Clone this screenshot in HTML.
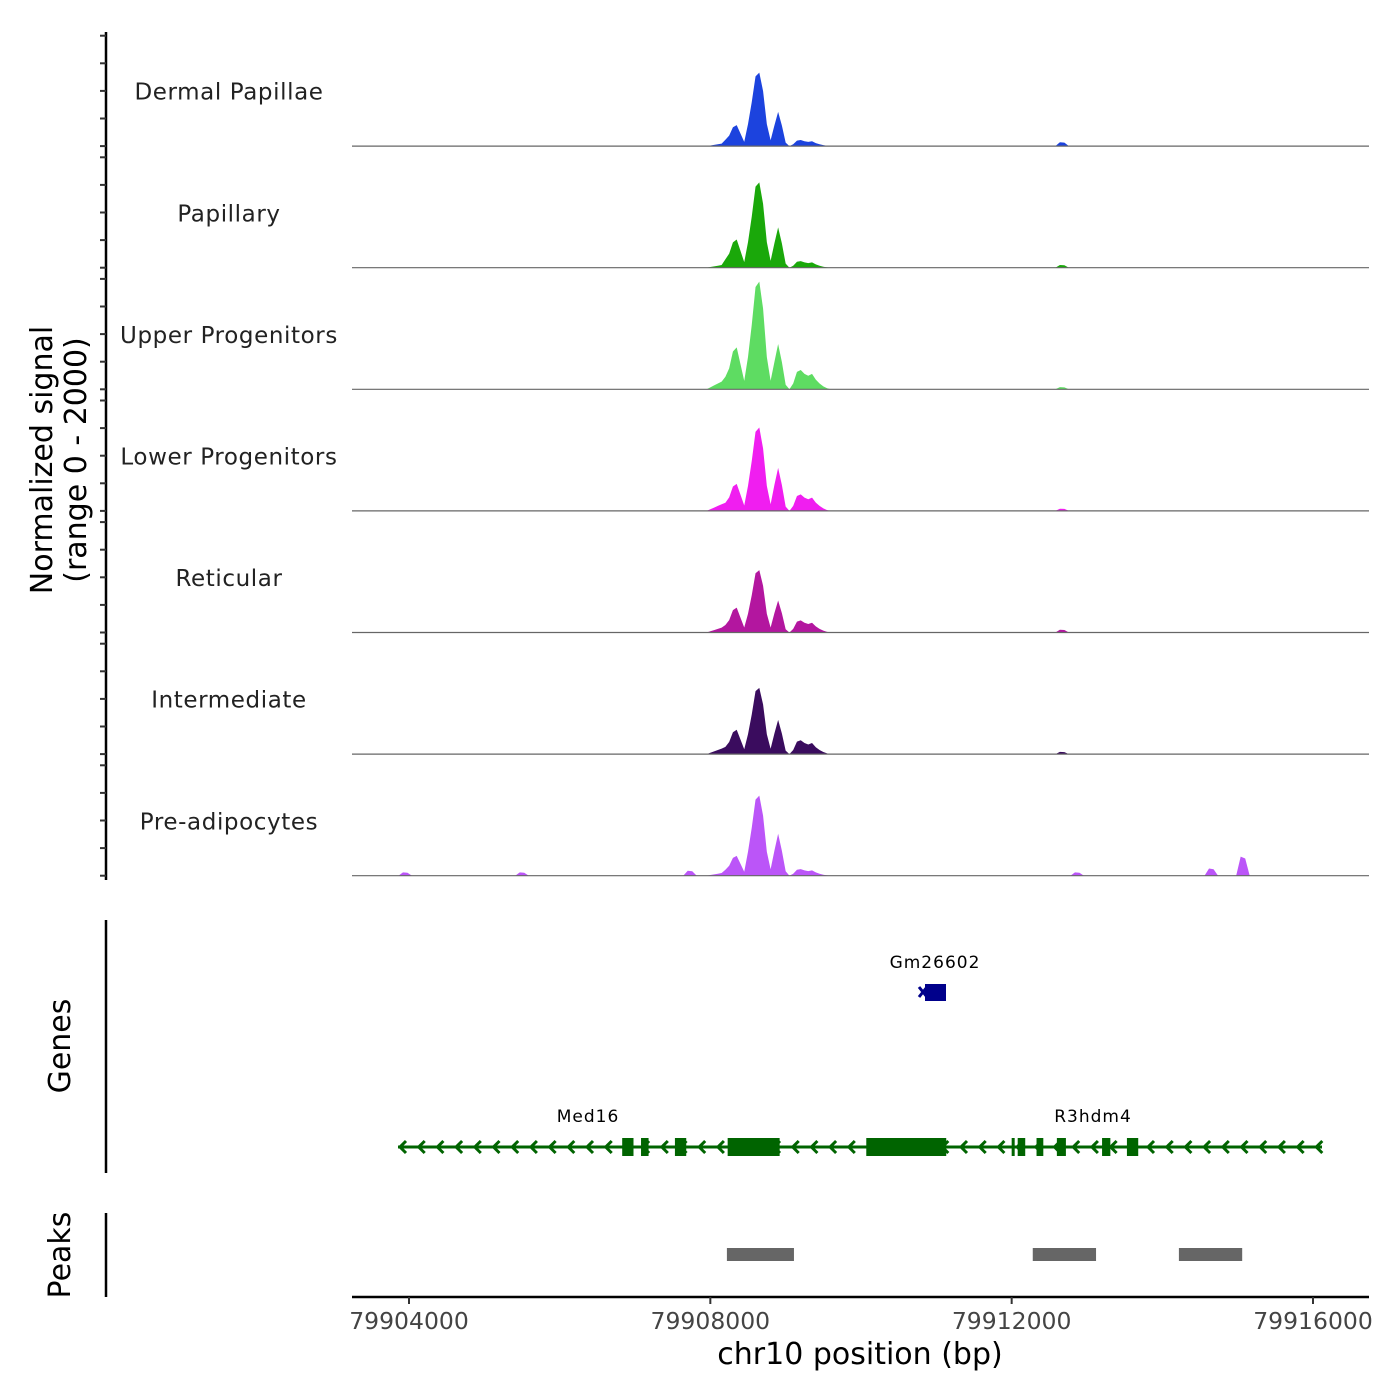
<!DOCTYPE html>
<html><head><meta charset="utf-8"><style>
body{margin:0;background:#fff}
svg{display:block;font-family:"DejaVu Sans","Liberation Sans",sans-serif}
</style></head><body>
<svg id="c" width="1400" height="1400" viewBox="0 0 1400 1400"></svg>
<script>
const trackNames=["Dermal Papillae","Papillary","Upper Progenitors","Lower Progenitors","Reticular","Intermediate","Pre-adipocytes"];
const trackColors=["#1c43de","#1aa80a","#5edc62","#f01ef0","#b3169f","#3a0c5e","#bb55f8"];
const binPos=[79908000,79908050,79908100,79908150,79908200,79908250,79908300,79908350,79908400,79908450,79908500,79908550,79908600,79908650,79908700,79908750,79908800,79908850,79908900,79908950,79909000,79909050,79909100,79909150,79909200,79909250,79909300,79909350,79909400,79909450,79909500,79909550];
const dermalVals=[11,22,33,44,114,190,342,380,228,76,399,798,1264,1330,998,399,106,372,620,372,62,0,33,99,110,88,77,88,55,33,17,6];
const papillaryVals=[12,24,36,48,153,255,459,510,306,102,464,927,1468,1545,1159,464,124,438,730,438,73,0,36,108,120,96,84,96,60,36,18,6];
const upperVals=[35,70,105,140,228,380,684,760,456,152,585,1170,1853,1950,1463,585,156,492,820,492,82,0,105,315,350,280,245,280,175,105,53,18];
const lowerVals=[30,60,90,120,147,245,441,490,294,98,453,906,1435,1510,1133,453,121,468,780,468,78,0,90,270,300,240,210,240,150,90,45,15];
const reticularVals=[22,44,66,88,135,225,405,450,270,90,339,678,1074,1130,848,339,90,348,580,348,58,0,66,198,220,176,154,176,110,66,33,11];
const intermediateVals=[25,50,75,100,132,220,396,440,264,88,360,720,1140,1200,900,360,96,372,620,372,62,0,75,225,250,200,175,200,125,75,38,13];
const preVals=[12,24,36,48,108,180,324,360,216,72,435,870,1378,1450,1088,435,116,450,760,450,80,0,36,108,120,96,84,96,60,36,18,6];
const trackVals=[dermalVals,papillaryVals,upperVals,lowerVals,reticularVals,intermediateVals,preVals];
const minorPos=[[79912670],[79912670],[79912670],[79912670],[79912670],[79912670],[79903950,79905500,79907730,79912870,79914650,79915070]];
const minorVals=[[70],[50],[40],[40],[50],[40],[60,60,90,60,130,345]];
const xTicks=[79904000,79908000,79912000,79916000];
const xTickLabels=["79904000","79908000","79912000","79916000"];
const peakStarts=[79908220,79912280,79914220];
const peakEnds=[79909110,79913120,79915060];
const exonStarts=[79906830,79907080,79907530,79908230,79910070,79910900,79912000,79912080,79912330,79912600,79913200,79913530];
const exonEnds=[79906980,79907180,79907680,79908920,79911130,79911130,79912040,79912180,79912420,79912720,79913310,79913680];

const NS="http://www.w3.org/2000/svg";
const svg=document.getElementById('c');
function el(t,a,p){const e=document.createElementNS(NS,t);for(const k in a)e.setAttribute(k,a[k]);(p||svg).appendChild(e);return e;}
const X=v=>409+(v-79904000)*(1313-409)/12000;
const TOP0=35.7,STEP=121.6,H=110.4;
const Y=(i,v)=>TOP0+i*STEP+H-v*H/2000;

const ax=el('line',{x1:106,y1:32,x2:106,y2:880,stroke:'#000','stroke-width':2.5});

for(let i=0;i<7;i++){
  for(const v of [0,500,1000,1500,2000]){
    const t=el('line',{x1:100,x2:106,y1:Y(i,v),y2:Y(i,v),stroke:'#333','stroke-width':2});
    
  }
  const b=TOP0+i*STEP+H;
  let d=`M${X(79903800)},${b}`;
  d+=` L${X(binPos[0]-50)},${b}`;
  trackVals[i].forEach((v,j)=>{d+=` L${X(binPos[j])},${Y(i,v)}`;});
  d+=` L${X(binPos[binPos.length-1]+50)},${b} Z`;
  const a=el('path',{d,fill:trackColors[i]});
  
  minorPos[i].forEach((p,j)=>{
    const m=el('path',{d:`M${X(p-90)},${b} L${X(p-30)},${Y(i,minorVals[i][j])} L${X(p+30)},${Y(i,minorVals[i][j]*0.9)} L${X(p+90)},${b} Z`,fill:trackColors[i]});
    
  });
  const bl=el('line',{x1:352,x2:1369,y1:b,y2:b,stroke:'#666','stroke-width':1.2});
  
  const lb=el('text',{x:229,y:TOP0+i*STEP+64,'text-anchor':'middle','font-size':23,fill:'#222','letter-spacing':'0.6'});
  lb.textContent=trackNames[i];
  
}
const yt=el('text',{transform:'translate(52,460) rotate(-90)','text-anchor':'middle','font-size':30,fill:'#000'});
yt.textContent='Normalized signal';
const yt2=el('text',{transform:'translate(86,460) rotate(-90)','text-anchor':'middle','font-size':30,fill:'#000'});
yt2.textContent='(range 0 - 2000)';

const ga=el('line',{x1:106,y1:920,x2:106,y2:1173,stroke:'#000','stroke-width':2.5});

const gt=el('text',{transform:'translate(70,1046) rotate(-90)','text-anchor':'middle','font-size':30});
gt.textContent='Genes';
const gl=el('line',{x1:398,x2:1322,y1:1147,y2:1147,stroke:'#006400','stroke-width':3});

for(let x=400;x<1320;x+=18.7){
  const c=el('polyline',{points:`${x+6},${1141} ${x},${1147} ${x+6},${1153}`,fill:'none',stroke:'#006400','stroke-width':3});
  
}
exonStarts.forEach((s,i)=>{
  const r=el('rect',{x:X(s),y:1138,width:X(exonEnds[i])-X(s),height:18,fill:'#006400'});
  
});
const g1=el('rect',{x:925,y:984,width:21,height:17,fill:'#00008b'});

const g1a=el('path',{d:'M919,987 L927,997 M919,997 L927,987',fill:'none',stroke:'#00008b','stroke-width':3});

[['Gm26602',935,968],['Med16',588,1122],['R3hdm4',1093,1122]].forEach(([t,x,y])=>{
  const e=el('text',{x,y,'text-anchor':'middle','font-size':17,fill:'#000','letter-spacing':'1'});
  e.textContent=t;
});

const pa=el('line',{x1:106,y1:1213,x2:106,y2:1297,stroke:'#000','stroke-width':2.5});

const pt=el('text',{transform:'translate(70,1255) rotate(-90)','text-anchor':'middle','font-size':30});
pt.textContent='Peaks';
peakStarts.forEach((s,i)=>{
  const r=el('rect',{x:X(s),y:1248,width:X(peakEnds[i])-X(s),height:13,fill:'#666'});
  
});

const xa=el('line',{x1:352,x2:1369,y1:1297,y2:1297,stroke:'#000','stroke-width':2.5});

xTicks.forEach((v,i)=>{
  const t=el('line',{x1:X(v),x2:X(v),y1:1297,y2:1304,stroke:'#333','stroke-width':2});
  
  const l=el('text',{x:X(v),y:1329,'text-anchor':'middle','font-size':23.5,fill:'#444'});
  l.textContent=xTickLabels[i];
});
const xt=el('text',{x:860,y:1364,'text-anchor':'middle','font-size':30,fill:'#000'});
xt.textContent='chr10 position (bp)';
</script>
</body></html>
